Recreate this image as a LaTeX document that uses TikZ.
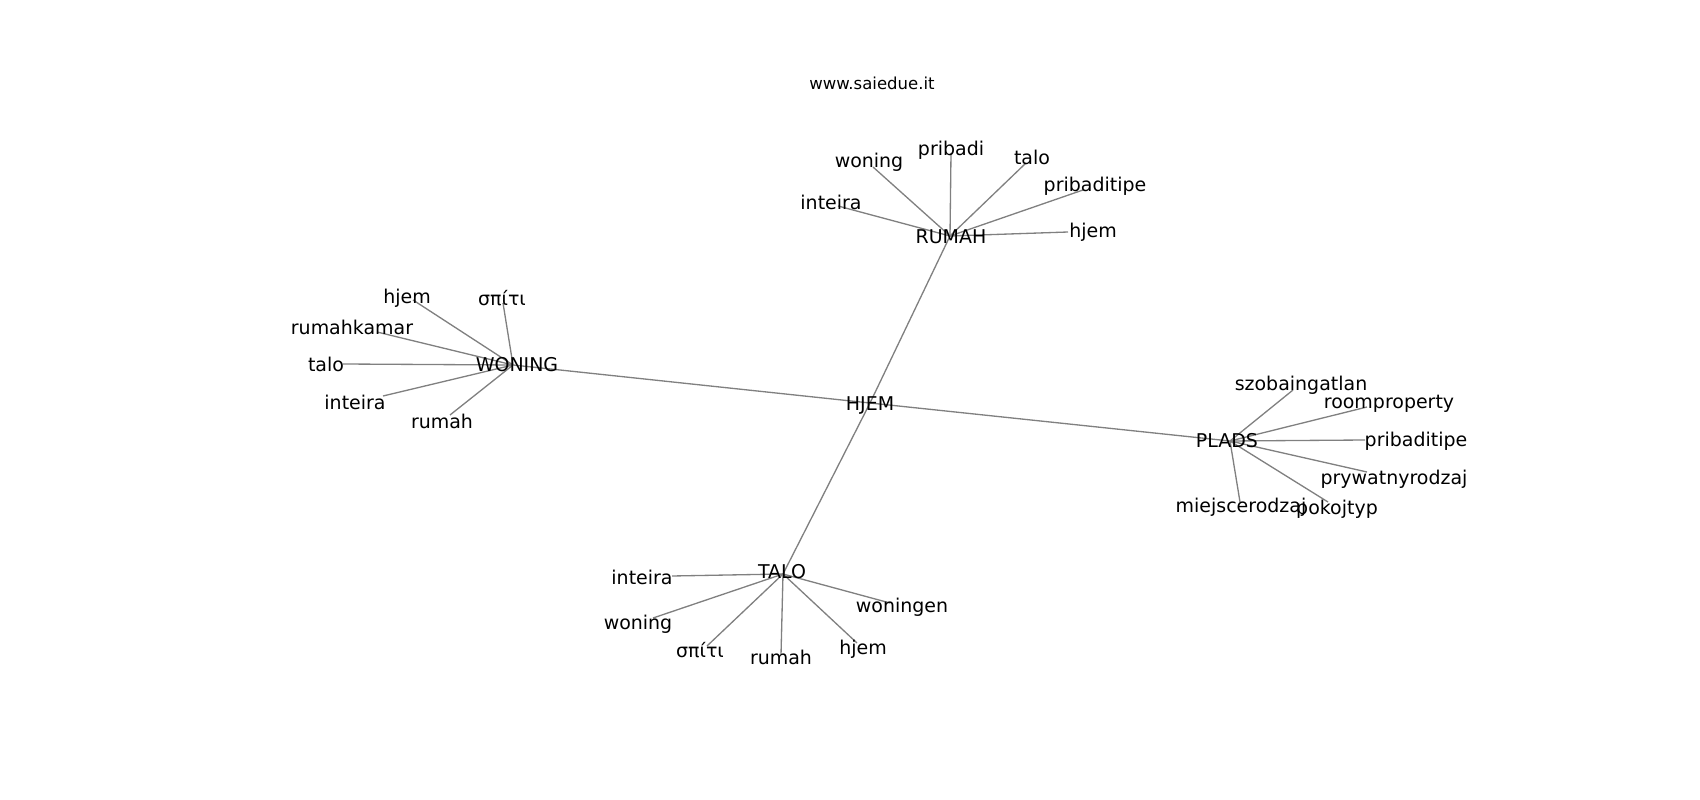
\documentclass[tikz,border=0pt]{standalone}
\usepackage{fontspec}
\setmainfont{DejaVu Sans}
\begin{document}
\begin{tikzpicture}[x=0.02cm,y=-0.02cm,
  edge/.style={draw=gray, line width=0.75pt},
  lbl/.style={font=\fontsize{10.8}{13}\selectfont, inner sep=0pt, anchor=mid, yshift=-0.06cm},
  ttl/.style={font=\fontsize{9.4}{11}\selectfont, inner sep=0pt, anchor=mid, yshift=-0.05cm}]
\useasboundingbox (0,0) rectangle (1700,800);
% vertices
\coordinate (hjem) at (870,403);
\coordinate (rumah) at (950,236);
\coordinate (woning) at (513,365);
\coordinate (plads) at (1230,441);
\coordinate (talo) at (783,574);
% RUMAH leaves
\coordinate (r1) at (838,206);
\coordinate (r2) at (873,167);
\coordinate (r3) at (951,153);
\coordinate (r4) at (1026,163);
\coordinate (r5) at (1083,190);
\coordinate (r6) at (1068,232);
% WONING leaves
\coordinate (w1) at (413,300);
\coordinate (w2) at (503,303);
\coordinate (w3) at (377,332);
\coordinate (w4) at (343,364);
\coordinate (w5) at (383,396);
\coordinate (w6) at (450,415);
% PLADS leaves
\coordinate (p1) at (1293,390);
\coordinate (p2) at (1367,407);
\coordinate (p3) at (1365,440);
\coordinate (p4) at (1367,472);
\coordinate (p5) at (1240,502);
\coordinate (p6) at (1328,502);
% TALO leaves
\coordinate (t1) at (672,576);
\coordinate (t2) at (653,618);
\coordinate (t3) at (707,646);
\coordinate (t4) at (781,655);
\coordinate (t5) at (857,643);
\coordinate (t6) at (890,603);
% edges
\foreach \a/\b in {hjem/rumah,hjem/woning,hjem/plads,hjem/talo,
  rumah/r1,rumah/r2,rumah/r3,rumah/r4,rumah/r5,rumah/r6,
  woning/w1,woning/w2,woning/w3,woning/w4,woning/w5,woning/w6,
  plads/p1,plads/p2,plads/p3,plads/p4,plads/p5,plads/p6,
  talo/t1,talo/t2,talo/t3,talo/t4,talo/t5,talo/t6}
  \draw[edge] (\a) -- (\b);
% labels
\node[ttl] (title) at (872,82) {www.saiedue.it};
\node[lbl] (Lhjem) at (870,403) {HJEM};
\node[lbl] (Lrumah) at (951,236) {RUMAH};
\node[lbl] (Lwoning) at (517,364) {WONING};
\node[lbl] (Lplads) at (1227,440) {PLADS};
\node[lbl] (Ltalo) at (782,571) {TALO};
\node[lbl] (Lr1) at (831,202) {inteira};
\node[lbl] (Lr2) at (869,160) {woning};
\node[lbl] (Lr3) at (951,148) {pribadi};
\node[lbl] (Lr4) at (1032,157) {talo};
\node[lbl] (Lr5) at (1095,184) {pribaditipe};
\node[lbl] (Lr6) at (1093,230) {hjem};
\node[lbl] (Lw1) at (407,296) {hjem};
\node[lbl] (Lw2) at (502,298) {σπίτι};
\node[lbl] (Lw3) at (352,327) {rumahkamar};
\node[lbl] (Lw4) at (326,364) {talo};
\node[lbl] (Lw5) at (355,402) {inteira};
\node[lbl] (Lw6) at (442,421) {rumah};
\node[lbl] (Lp1) at (1301,383) {szobaingatlan};
\node[lbl] (Lp2) at (1389,401) {roomproperty};
\node[lbl] (Lp3) at (1416,439) {pribaditipe};
\node[lbl] (Lp4) at (1394,477) {prywatnyrodzaj};
\node[lbl] (Lp5) at (1241,505) {miejscerodzaj};
\node[lbl] (Lp6) at (1337,507) {pokojtyp};
\node[lbl] (Lt1) at (642,577) {inteira};
\node[lbl] (Lt2) at (638,622) {woning};
\node[lbl] (Lt3) at (700,650) {σπίτι};
\node[lbl] (Lt4) at (781,657) {rumah};
\node[lbl] (Lt5) at (863,647) {hjem};
\node[lbl] (Lt6) at (902,605) {woningen};
\end{tikzpicture}
\end{document}
